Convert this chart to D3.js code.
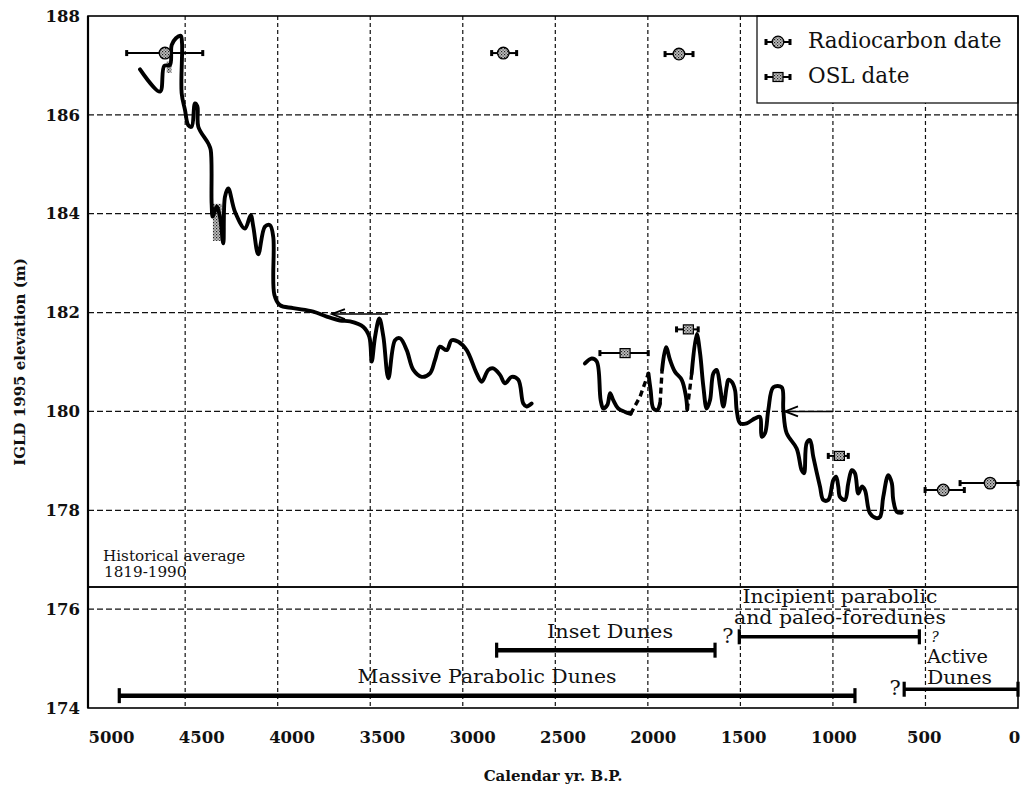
<!DOCTYPE html>
<html><head><meta charset="utf-8">
<script src="https://cdn.jsdelivr.net/npm/d3@7"></script>
<style>body{margin:0;background:#fff}svg{display:block}</style>
</head><body>
<svg id="c" width="1021" height="787"></svg>
<script>
// ---------- data ----------
const yearTicks = [5000,4500,4000,3500,3000,2500,2000,1500,1000,500,0];
const elevTicks = [174,176,178,180,182,184,186,188];
const gridYears = [4500,4000,3500,3000,2500,2000,1500,1000,500];
const gridElevs = [176,178,180,182,184,186];

const segA = [[4744,186.92],[4636,186.47],[4613,186.99],[4582,187.01],[4573,187.41],[4550,187.55],[4524,187.60],[4517,187.45],[4519,186.44],[4501,186.10],[4483,185.79],[4465,185.76],[4447,186.23],[4434,186.17],[4429,185.76],[4375,185.42],[4362,185.29],[4357,184.21],[4351,183.94],[4330,184.14],[4312,183.94],[4294,183.40],[4285,184.34],[4267,184.51],[4231,184.04],[4177,183.70],[4146,183.97],[4132,183.74],[4105,183.18],[4069,183.74],[4042,183.77],[4024,183.53],[4018,182.36],[3988,182.15],[3916,182.09],[3808,182.02],[3735,181.92],[3663,181.84],[3609,181.82],[3537,181.71],[3505,181.51],[3492,181.01],[3474,181.51],[3451,181.88],[3429,181.51],[3402,180.67],[3366,181.44],[3339,181.48],[3303,181.24],[3267,180.84],[3222,180.70],[3177,180.77],[3150,181.04],[3123,181.31],[3087,181.24],[3060,181.44],[3024,181.41],[2979,181.24],[2925,180.77],[2898,180.60],[2862,180.84],[2835,180.87],[2799,180.74],[2772,180.57],[2736,180.70],[2700,180.64],[2673,180.16],[2655,180.10],[2628,180.16]];
const segB1 = [[2340,180.97],[2303,181.07],[2276,181.01],[2255,180.23],[2241,180.06],[2219,180.13],[2204,180.37],[2187,180.23],[2160,180.06],[2123,179.99],[2093,179.95]];
const segB2 = [[2093,179.95],[2042,180.30],[1997,180.77]];
const segB3 = [[1997,180.77],[1985,180.43],[1970,180.06],[1949,180.03],[1934,180.16]];
const segB4 = [[1934,180.16],[1923,180.84]];
const segB5 = [[1923,180.84],[1902,181.30],[1880,181.04],[1853,180.80],[1817,180.64],[1794,180.30],[1787,180.04]];
const segB6 = [[1787,180.04],[1763,180.77]];
const segB7 = [[1763,180.77],[1736,181.57],[1718,181.18],[1700,180.50],[1682,180.06],[1664,180.23],[1646,180.77],[1628,180.84],[1610,180.50],[1592,180.10],[1574,180.50],[1565,180.64],[1547,180.60],[1529,180.43],[1520,180.03],[1502,179.76],[1466,179.76],[1421,179.86],[1394,179.89],[1385,179.49],[1367,179.56],[1349,180.03],[1322,180.49],[1277,180.49],[1268,180.03],[1250,179.56],[1196,179.25],[1169,178.81],[1156,178.75],[1142,179.36],[1124,179.42],[1106,179.08],[1070,178.48],[1052,178.21],[1025,178.21],[998,178.61],[983,178.68],[971,178.48],[962,178.27],[935,178.21],[917,178.55],[898,178.81],[881,178.75],[863,178.34],[844,178.48],[827,178.41],[800,177.94],[763,177.84],[745,177.87],[728,178.27],[701,178.71],[682,178.55],[674,178.21],[655,177.97],[628,177.95]];
const solidSegments = [segA, segB1, segB3, segB5, segB7];
const dashedSegments = [segB2, segB4, segB6];

const radiocarbon = [
  {yr:4609, elev:187.25, lo:4816, hi:4405},
  {yr:2781, elev:187.25, lo:2844, hi:2709},
  {yr:1832, elev:187.23, lo:1907, hi:1756},
  {yr:404,  elev:178.41, lo:502,  hi:290},
  {yr:151,  elev:178.55, lo:313,  hi:0}
];
const osl = [
  {yr:2123, elev:181.18, lo:2259, hi:1998},
  {yr:1781, elev:181.66, lo:1845, hi:1728},
  {yr:965,  elev:179.10, lo:1025, hi:917}
];
const shadedSamples = [
  {y0:4600, y1:4574, e0:186.85, e1:187.08},
  {y0:4350, y1:4302, e0:183.45, e1:184.20}
];
const arrows = [
  {from:3404, to:3707, elev:181.97},
  {from:1000, to:1259, elev:180.0}
];
const historicalAverage = 176.45;
const durations = [
  {name:"Massive Parabolic Dunes", start:4856, end:881, elev:174.25},
  {name:"Inset Dunes", start:2817, end:1637, elev:175.17},
  {name:"Incipient parabolic and paleo-foredunes", start:1506, end:533, elev:175.44},
  {name:"Active Dunes", start:615, end:0, elev:174.38}
];
const durationLabelText = [
  ["Massive Parabolic Dunes"],
  ["Inset Dunes"],
  ["Incipient parabolic","and paleo-foredunes"],
  ["Active","Dunes"]
];
const durationLabelYear = [2869, 2204, 962, 492];
const durationLabelElev = [174.51, 175.42, 176.12, 174.91];
const questionYear = [1567, 664, 448];
const questionElev = [175.31, 174.26, 175.335];

// ---------- styles (kept apart from the data) ----------
const labelStyle = [
  {anchor:"middle", size:18.5, widths:[259]},
  {anchor:"middle", size:18.5, widths:[126]},
  {anchor:"middle", size:18,   widths:[195,212]},
  {anchor:"start",  size:18,   widths:[61,65]}
];
const questionStyle = [{size:21, italic:false},{size:21, italic:false},{size:14, italic:true}];

// ---------- setup ----------
const L = 88, R = 1018, T = 16, B = 708;
const svg = d3.select("#c");
const x = d3.scaleLinear().domain([5025, 0]).range([L, R]);
const xLab = d3.scaleLinear().domain([5000, 0]).range([111, 1014]);
const y = d3.scaleLinear().domain([174, 188]).range([B, T]);
const serif = "'DejaVu Serif', 'Liberation Serif', serif";

const defs = svg.append("defs");
const pat = defs.append("pattern").attr("id","stip").attr("patternUnits","userSpaceOnUse")
  .attr("width",3).attr("height",3);
pat.append("rect").attr("width",3).attr("height",3).attr("fill","#c0c0c0");
pat.append("rect").attr("width",1.2).attr("height",1.2).attr("fill","#222");
pat.append("rect").attr("x",1.5).attr("y",1.5).attr("width",1.2).attr("height",1.2).attr("fill","#444");

// gridlines
svg.append("g").selectAll("line").data(gridYears).join("line")
  .attr("x1", d=>x(d)).attr("x2", d=>x(d)).attr("y1", T).attr("y2", B)
  .attr("stroke","#111").attr("stroke-width",1.2).attr("stroke-dasharray","4,3");
svg.append("g").selectAll("line").data(gridElevs).join("line")
  .attr("x1", L).attr("x2", R).attr("y1", d=>y(d)).attr("y2", d=>y(d))
  .attr("stroke","#111").attr("stroke-width",1.2).attr("stroke-dasharray","6,3");

// historical average
svg.append("line").attr("x1",L).attr("x2",R)
  .attr("y1",y(historicalAverage)).attr("y2",y(historicalAverage))
  .attr("stroke","#111").attr("stroke-width",2);
svg.append("text").attr("x", L+15).attr("y", y(historicalAverage)-26)
  .attr("font-family",serif).attr("font-size",15.2).attr("fill","#111").text("Historical average");
svg.append("text").attr("x", L+16).attr("y", y(historicalAverage)-10)
  .attr("font-family",serif).attr("font-size",15.2).attr("fill","#111").text("1819-1990");

// axes labels
const xAxis = d3.axisBottom(xLab).tickValues(yearTicks).tickSize(0).tickPadding(0).tickFormat(d3.format("d"));
const gx = svg.append("g").attr("transform",`translate(0,${B+35})`).call(xAxis);
gx.select(".domain").remove();
gx.selectAll("text").attr("font-family",serif).attr("font-weight","bold").attr("font-size",16.5)
  .attr("fill","#111").attr("dy",0);

const yAxis = d3.axisLeft(y).tickValues(elevTicks).tickSize(0).tickPadding(8).tickFormat(d3.format("d"));
const gy = svg.append("g").attr("transform",`translate(${L},0)`).call(yAxis);
gy.select(".domain").remove();
gy.selectAll("text").attr("font-family",serif).attr("font-weight","bold").attr("font-size",16.5)
  .attr("fill","#111");

svg.append("text").attr("transform",`translate(25,${(T+B)/2}) rotate(-90)`)
  .attr("text-anchor","middle").attr("font-family",serif).attr("font-weight","bold")
  .attr("font-size",15).attr("fill","#111").text("IGLD 1995 elevation (m)");
svg.append("text").attr("x",553).attr("y",781).attr("text-anchor","middle")
  .attr("font-family",serif).attr("font-weight","bold").attr("font-size",15).attr("fill","#111").text("Calendar yr. B.P.");

// shaded samples on curve
svg.append("g").selectAll("rect").data(shadedSamples).join("rect")
  .attr("x", d=>x(d.y0)).attr("width", d=>x(d.y1)-x(d.y0))
  .attr("y", d=>y(d.e1)).attr("height", d=>y(d.e0)-y(d.e1))
  .attr("fill","url(#stip)");

// lake level curve
const line = d3.line().x(d=>x(d[0])).y(d=>y(d[1])).curve(d3.curveCatmullRom.alpha(0.5));
svg.append("g").selectAll("path").data(solidSegments).join("path")
  .attr("d", line).attr("fill","none").attr("stroke","#000").attr("stroke-width",3.9)
  .attr("stroke-linejoin","round").attr("stroke-linecap","round");
svg.append("g").selectAll("path").data(dashedSegments).join("path")
  .attr("d", d3.line().x(d=>x(d[0])).y(d=>y(d[1]))).attr("fill","none").attr("stroke","#000")
  .attr("stroke-width",3.4).attr("stroke-dasharray","6,4");

// arrows
const ga = svg.append("g");
arrows.forEach(a=>{
  const x0 = x(a.from), x1 = x(a.to), yy = y(a.elev);
  ga.append("line").attr("x1",x0).attr("x2",x1).attr("y1",yy).attr("y2",yy)
    .attr("stroke","#000").attr("stroke-width",1.6);
  ga.append("path").attr("d",`M${x1+13},${yy-5}L${x1},${yy}L${x1+13},${yy+5}`)
    .attr("fill","none").attr("stroke","#000").attr("stroke-width",1.8);
});

// error bars helper
function errBar(g, d, ecap){
  const yy = y(d.elev);
  g.append("line").attr("x1",x(d.lo)).attr("x2",x(d.hi)).attr("y1",yy).attr("y2",yy)
    .attr("stroke","#000").attr("stroke-width",2);
  [d.lo,d.hi].forEach(v=>{
    g.append("rect").attr("x",x(v)-1.5).attr("y",yy-ecap/2).attr("width",3).attr("height",ecap).attr("fill","#000");
  });
}
const gr = svg.append("g");
radiocarbon.forEach(d=>{
  errBar(gr, d, 6);
  gr.append("circle").attr("cx",x(d.yr)).attr("cy",y(d.elev)).attr("r",5.8)
    .attr("fill","url(#stip)").attr("stroke","#000").attr("stroke-width",1.3);
});
const go = svg.append("g");
osl.forEach(d=>{
  errBar(go, d, 6);
  go.append("rect").attr("x",x(d.yr)-5).attr("y",y(d.elev)-4.5).attr("width",10).attr("height",9)
    .attr("fill","url(#stip)").attr("stroke","#000").attr("stroke-width",1.2);
});

// duration bars
const gd = svg.append("g");
durations.forEach((d,i)=>{
  const yy = y(d.elev);
  const sw = (i<2) ? 4.5 : 3.5;
  gd.append("line").attr("x1",x(d.start)).attr("x2",x(d.end)).attr("y1",yy).attr("y2",yy)
    .attr("stroke","#000").attr("stroke-width",sw);
  [d.start,d.end].forEach(v=>{
    gd.append("rect").attr("x",x(v)-1.6).attr("y",yy-7.5).attr("width",3.2).attr("height",15).attr("fill","#000");
  });
});
durationLabelText.forEach((lines,k)=>{
  const st = labelStyle[k];
  lines.forEach((s,i)=>{
    gd.append("text").attr("x",x(durationLabelYear[k])).attr("y",y(durationLabelElev[k]) + i*21)
      .attr("text-anchor",st.anchor).attr("font-family",serif).attr("font-size",st.size)
      .attr("textLength",st.widths[i]).attr("lengthAdjust","spacingAndGlyphs")
      .attr("fill","#111").text(s);
  });
});
questionYear.forEach((q,k)=>{
  const st = questionStyle[k];
  gd.append("text").attr("x",x(q)).attr("y",y(questionElev[k])).attr("text-anchor","middle")
    .attr("font-family",serif).attr("font-size",st.size).attr("font-style",st.italic?"italic":"normal")
    .attr("fill","#111").text("?");
});

// legend
const lg = svg.append("g");
lg.append("rect").attr("x",757).attr("y",T).attr("width",R-757).attr("height",87)
  .attr("fill","#fff").attr("stroke","#000").attr("stroke-width",1.2);
const legendItems = [{label:"Radiocarbon date", kind:"c"},{label:"OSL date", kind:"s"}];
legendItems.forEach((it,i)=>{
  const cy = 42 + i*35;
  lg.append("line").attr("x1",766).attr("x2",790).attr("y1",cy).attr("y2",cy).attr("stroke","#000").attr("stroke-width",2);
  [766,790].forEach(v=>lg.append("rect").attr("x",v-1.5).attr("y",cy-3).attr("width",3).attr("height",6).attr("fill","#000"));
  if(it.kind==="c"){
    lg.append("circle").attr("cx",778).attr("cy",cy).attr("r",5.8).attr("fill","url(#stip)").attr("stroke","#000").attr("stroke-width",1.3);
  } else {
    lg.append("rect").attr("x",773).attr("y",cy-4.5).attr("width",10).attr("height",9).attr("fill","url(#stip)").attr("stroke","#000").attr("stroke-width",1.2);
  }
  lg.append("text").attr("x",808).attr("y",cy+6).attr("font-family",serif).attr("font-size",21.5)
    .attr("fill","#111").text(it.label);
});

// frame
svg.append("rect").attr("x",L).attr("y",T).attr("width",R-L).attr("height",B-T)
  .attr("fill","none").attr("stroke","#000").attr("stroke-width",1.6);
svg.append("line").attr("x1",L).attr("x2",L).attr("y1",T).attr("y2",B).attr("stroke","#000").attr("stroke-width",2.2);
</script>
</body></html>
